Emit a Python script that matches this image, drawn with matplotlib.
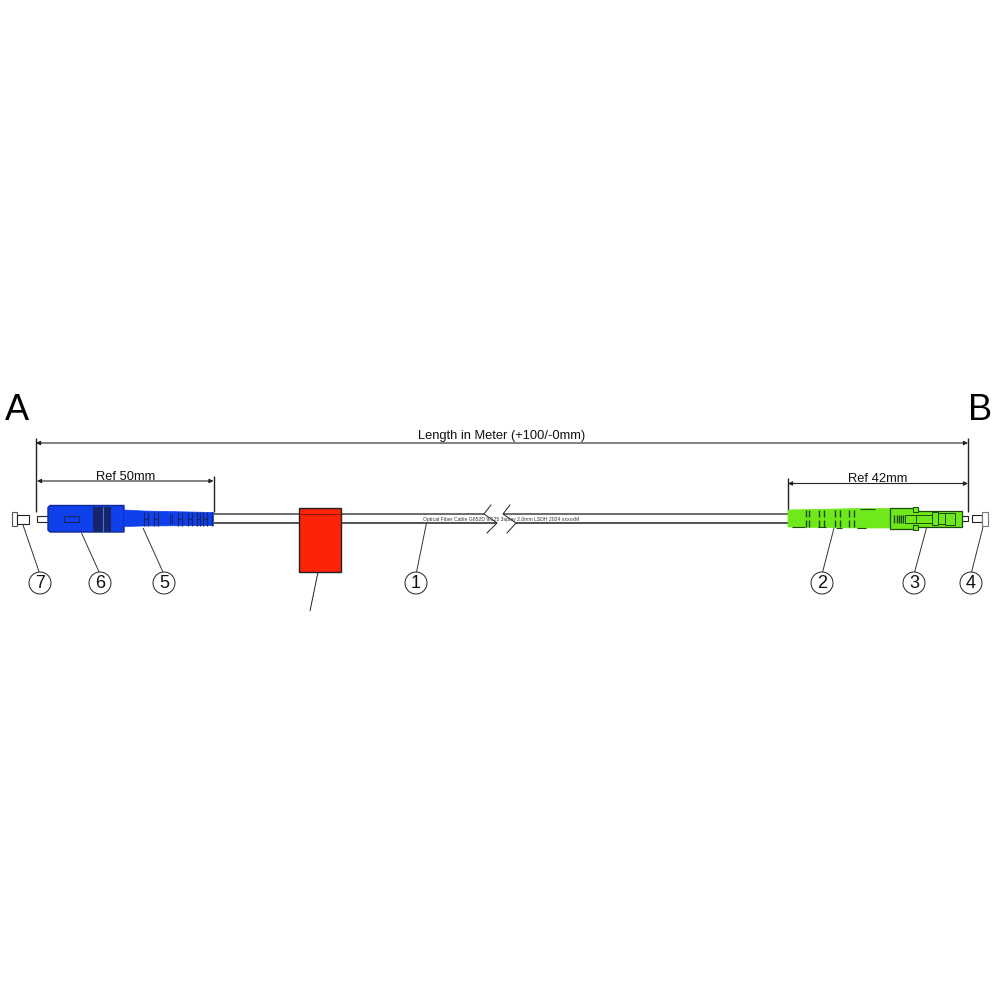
import matplotlib
matplotlib.use("Agg")
import matplotlib.pyplot as plt
from matplotlib.patches import Rectangle, Polygon, Circle

plt.rcParams["font.family"] = ["Liberation Sans", "DejaVu Sans"]

# everything is in picture pixels, y pointing down
BLUE = "#1040ec"
DARK_BLUE = "#16266a"
GREEN = "#6fe81c"
DARK_GREEN = "#1e4a08"
RED = "#fb2408"
LINE = "#222222"

cable_top = 513.5
cable_bottom = 523
cable_top_runs = [(214, 484), (503, 788)]
cable_bottom_runs = [(214, 497), (516, 788)]
break_marks = [
    [(491, 505), (484, 514), (497, 523), (487, 533)],
    [(510, 505), (503, 514), (516, 523), (507, 533)],
]

# label, circle x, leader start x, leader start y
balloons = [
    ("7", 40, 23, 525),
    ("6", 100, 81.5, 533),
    ("5", 164, 143, 528),
    ("1", 416, 426.5, 523),
    ("2", 822, 834, 528),
    ("3", 914, 926.5, 528),
    ("4", 971, 983, 527),
]
balloon_y = 583
balloon_r = 11

sc_body = [(50, 505.5), (124, 505.5), (124, 532), (50, 532), (48, 530), (48, 507.5)]
blue_boot = [(124, 510), (143, 511), (213.5, 512.5), (213.5, 525.5), (143, 526), (124, 526.5)]
blue_notches_x = [144.3, 147.7, 154.3, 157.7, 178.3, 181.7, 188.3, 191.7, 197, 200, 203.3, 206.7, 211.7]
blue_thin_x = [169.5, 171.5]
green_notches_x = [805.5, 809, 819, 824, 834.5, 840, 848.5, 853.5]
green_boot = [(788, 510), (860, 508.5), (890, 508.5), (890, 528), (860, 528), (788, 527)]
green_edges = [(792, 805, 526.5), (818, 826, 527), (836, 842, 527.5), (857, 866, 528), (860, 875, 508.5)]
lc_body = [(890, 508), (918, 508), (918, 510.5), (961.5, 510.5), (961.5, 526.5), (918, 526.5), (918, 528.5), (890, 528.5)]
lc_inner = [(905, 515, 10.5, 8), (915.5, 515, 22.5, 8), (932, 512, 6, 13), (938, 513, 7, 11), (945, 512.5, 10, 12.5),
            (913, 507, 5, 5), (913, 524.5, 5, 5)]
lc_stripes_x = [894, 896.5, 899, 901, 903]

fig = plt.figure(figsize=(10, 10), dpi=100)
ax = fig.add_axes([0, 0, 1, 1])
ax.set_xlim(0, 1000)
ax.set_ylim(1000, 0)
ax.axis("off")


def seg(x0, y0, x1, y1, lw=0.8, color=LINE, z=3):
    ax.plot([x0, x1], [y0, y1], color=color, lw=lw, solid_capstyle="butt", zorder=z)


def box(x, y, w, h, face="white", lw=0.8, z=2, edge=LINE):
    ax.add_patch(Rectangle((x, y), w, h, fc=face, ec=edge, lw=lw, zorder=z))


def dim(x0, x1, y, label, ty):
    ax.annotate("", xy=(x0, y), xytext=(x1, y), zorder=3,
                arrowprops=dict(arrowstyle="<|-|>", color=LINE, lw=0.8, mutation_scale=6,
                                shrinkA=0, shrinkB=0))
    ax.text((x0 + x1) / 2, ty, label, ha="center", va="center", fontsize=9.3, color="#111111")


# letters and dimensions
ax.text(16.5, 411, "A", ha="center", va="center", fontsize=26, color="black")
ax.text(980, 411, "B", ha="center", va="center", fontsize=26, color="black")
dim(36, 968, 443, "Length in Meter (+100/-0mm)", 436.5)
dim(37, 213.5, 481, "Ref 50mm", 476.5)
dim(788, 968, 483.5, "Ref 42mm", 479)
seg(36, 438, 36, 512, lw=1)
seg(968, 438, 968, 512, lw=1)
seg(213.5, 476, 213.5, 512, lw=1)
seg(788, 478, 788, 510, lw=1)

# cable with its break
for x0, x1 in cable_top_runs:
    seg(x0, cable_top, x1, cable_top, lw=1.1, color="#444444")
for x0, x1 in cable_bottom_runs:
    seg(x0, cable_bottom, x1, cable_bottom, lw=1.1)
for mark in break_marks:
    ax.plot(*zip(*mark), color=LINE, lw=0.7, zorder=3)
ax.text(501, 519, "Optical Fiber Cable G652D 9/125 3spiay 2.0mm LSDH 2024 xxxxxM",
        ha="center", va="center", fontsize=3.73, color="#333333", zorder=4)

# red tag
box(299, 508, 42, 64, face=RED, lw=1, z=5)
seg(299, cable_top, 341, cable_top, lw=0.7, color="#8a1a00", z=6)
seg(318, 572, 310, 611, lw=0.7)

# SC connector side
box(36.5, 515.5, 11.5, 6.5, lw=0.8)
ax.add_patch(Polygon(sc_body, closed=True, fc=BLUE, ec="#0c2a90", lw=1, zorder=3))
box(93.3, 506.5, 17.7, 25, face=DARK_BLUE, lw=0, z=4, edge=DARK_BLUE)
seg(102.7, 506.5, 102.7, 531.5, lw=0.8, color="#5570d0", z=5)
box(64, 516, 15, 5.7, face=BLUE, lw=0.8, z=4, edge=DARK_BLUE)
ax.add_patch(Polygon(blue_boot, closed=True, fc=BLUE, ec=BLUE, lw=0.5, zorder=3))
for x in blue_notches_x:
    seg(x, 512, x, 525.5, lw=0.9, color=DARK_BLUE, z=4)
for x0, x1 in zip(blue_notches_x[0:12:2], blue_notches_x[1:12:2]):
    # bridge in the middle of each notch pair, so it reads as an H
    seg(x0, 518.5, x1, 518.5, lw=0.9, color=DARK_BLUE, z=4)
for x in blue_thin_x:
    seg(x, 514, x, 524, lw=0.8, color=DARK_BLUE, z=4)
box(11.5, 512, 5.5, 14, lw=0.8, edge="#555555")
box(17, 515, 11.5, 9, lw=0.8)

# LC connector side
ax.add_patch(Polygon(green_boot, closed=True, fc=GREEN, ec=GREEN, lw=0.5, zorder=3))
for x in green_notches_x:
    seg(x, 510, x, 517, lw=1, color=DARK_GREEN, z=4)
    seg(x, 520, x, 527, lw=1, color=DARK_GREEN, z=4)
for x0, x1, y in green_edges:
    seg(x0, y, x1, y, lw=0.8, color=DARK_GREEN, z=4)
ax.add_patch(Polygon(lc_body, closed=True, fc=GREEN, ec=DARK_GREEN, lw=0.9, zorder=4))
for x, y, w, h in lc_inner:
    box(x, y, w, h, face=GREEN, lw=0.7, z=5, edge=DARK_GREEN)
for x in lc_stripes_x:
    seg(x, 515, x, 523, lw=1, color=DARK_GREEN, z=5)
box(961.5, 515.7, 6.5, 5.3, lw=0.8)
box(972.3, 515, 9.5, 7.3, lw=0.8)
box(982.3, 511.7, 6, 14.3, lw=0.8, edge="#777777")

# balloons
for label, cx, x0, y0 in balloons:
    seg(x0, y0, cx + (x0 - cx) * 0.05, balloon_y - balloon_r, lw=0.7, color="#333333")
    ax.add_patch(Circle((cx, balloon_y), balloon_r, fc="white", ec="#222222", lw=0.7, zorder=3))
    ax.text(cx, balloon_y + 0.5, label, ha="center", va="center", fontsize=13, color="#111111", zorder=4)

fig.savefig("out.png", dpi=100)
plt.close(fig)
